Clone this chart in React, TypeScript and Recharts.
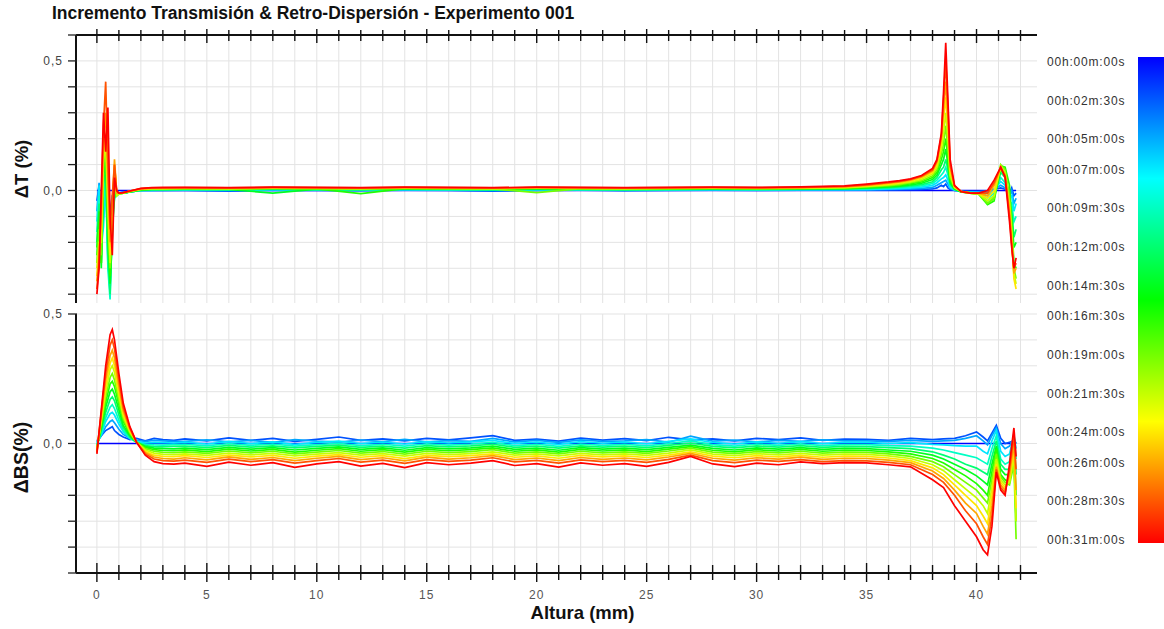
import { LineChart, Line, XAxis, YAxis, CartesianGrid } from "recharts";

// time of each profile (minutes) – also the legend labels
const TIMES = [0, 2.5, 5, 7, 9.5, 12, 14.5, 16.5, 19, 21.5, 24, 26, 28.5, 31];
const TIME_LABELS = [
  "00h:00m:00s", "00h:02m:30s", "00h:05m:00s", "00h:07m:00s", "00h:09m:30s", "00h:12m:00s", "00h:14m:30s",
  "00h:16m:30s", "00h:19m:00s", "00h:21m:30s", "00h:24m:00s", "00h:26m:00s", "00h:28m:30s", "00h:31m:00s",
];

const X_TICKS = Array.from({ length: 43 }, (_, i) => i);
const T_TICKS = [-0.4, -0.3, -0.2, -0.1, 0, 0.1, 0.2, 0.3, 0.4, 0.5, 0.6];
const BS_TICKS = [-0.5, -0.4, -0.3, -0.2, -0.1, 0, 0.1, 0.2, 0.3, 0.4, 0.5];

// ---- ΔT (%) ----
const TX_NEAR = [0, 0.1, 0.2, 0.3, 0.4, 0.5, 0.6, 0.7, 0.8, 0.9, 1.0, 1.2, 1.5, 2, 2.5, 3];
const TX_MID = [4, 6, 8, 10, 12, 14, 16, 18, 20, 22, 24, 26, 28, 30, 32, 34];
const TX_FAR = [35, 36, 36.5, 37, 37.5, 38, 38.2, 38.4, 38.5, 38.6, 38.7, 38.8, 39, 39.3, 39.7, 40.1, 40.5, 40.8, 41.1, 41.3, 41.5, 41.6, 41.7, 41.8];

const T_NEAR = [
  [0, 0, 0, 0, 0, 0, 0, 0, 0, 0, 0, 0, 0, 0, 0, 0],
  [-0.04, 0.02, -0.1, -0.06, 0.01, -0.12, -0.08, -0.02, -0.01, -0.01, -0.01, -0.005, -0.005, 0, 0, 0],
  [-0.08, 0.03, -0.16, -0.1, 0.02, -0.2, -0.3, -0.06, -0.02, -0.015, -0.01, -0.01, -0.005, 0, 0, 0],
  [-0.12, 0.02, -0.22, -0.14, 0.04, -0.28, -0.38, -0.1, -0.03, -0.01, -0.01, -0.01, -0.005, 0, 0, 0.002],
  [-0.16, -0.02, -0.25, -0.05, 0.06, -0.3, -0.42, -0.12, -0.02, -0.01, -0.01, -0.01, -0.005, 0, 0.002, 0.002],
  [-0.2, -0.05, -0.28, 0.02, 0.08, -0.25, -0.4, -0.15, -0.03, -0.01, -0.012, -0.01, -0.005, 0, 0.003, 0.003],
  [-0.22, -0.08, -0.3, 0.05, 0.12, -0.2, -0.36, -0.18, 0.02, -0.02, -0.012, -0.01, -0.005, 0.002, 0.004, 0.004],
  [-0.25, -0.12, -0.28, 0.08, 0.15, -0.15, -0.33, -0.15, 0.04, -0.02, -0.012, -0.01, -0.004, 0.003, 0.005, 0.005],
  [-0.28, -0.15, -0.25, 0.1, 0.2, -0.1, -0.3, -0.12, 0.06, -0.02, -0.012, -0.01, -0.004, 0.004, 0.006, 0.006],
  [-0.3, -0.2, -0.2, 0.12, 0.18, -0.05, -0.28, -0.1, 0.08, -0.02, -0.012, -0.01, -0.003, 0.005, 0.007, 0.007],
  [-0.33, -0.22, -0.15, 0.15, 0.22, 0.0, -0.25, -0.08, 0.1, -0.01, -0.012, -0.008, -0.003, 0.005, 0.008, 0.008],
  [-0.35, -0.25, -0.1, 0.2, 0.3, 0.05, -0.2, -0.05, 0.12, -0.01, -0.01, -0.008, -0.002, 0.006, 0.009, 0.009],
  [-0.38, -0.28, -0.05, 0.25, 0.42, 0.1, -0.15, -0.02, 0.1, 0.0, -0.01, -0.008, -0.002, 0.007, 0.01, 0.01],
  [-0.4, -0.3, 0.0, 0.3, 0.15, 0.32, -0.1, -0.25, 0.05, 0.0, -0.01, -0.008, -0.002, 0.008, 0.011, 0.012],
];

const T_MID = [
  [0, 0, 0, 0, 0, 0, 0, 0, 0, 0, 0, 0, 0, 0, 0, 0],
  [0.0, -0.002, 0.001, 0.0, -0.001, 0.001, 0.0, -0.002, 0.0, 0.001, -0.001, 0.0, 0.001, 0.0, 0.001, 0.001],
  [0.001, 0.0, 0.002, 0.001, 0.0, 0.002, 0.001, 0.0, 0.001, 0.002, 0.0, 0.001, 0.002, 0.001, 0.002, 0.002],
  [0.002, 0.001, 0.003, 0.002, 0.001, 0.003, 0.002, 0.001, 0.003, 0.002, 0.001, 0.002, 0.003, 0.002, 0.003, 0.003],
  [0.003, 0.002, 0.004, 0.003, 0.002, 0.004, 0.003, 0.002, 0.004, 0.003, 0.002, 0.003, 0.004, 0.003, 0.004, 0.005],
  [0.004, 0.003, 0.005, 0.004, 0.003, 0.005, 0.004, 0.003, 0.005, 0.004, 0.003, 0.004, 0.005, 0.004, 0.005, 0.006],
  [0.005, 0.004, -0.01, 0.005, 0.004, 0.006, 0.005, 0.004, 0.006, 0.005, 0.004, 0.005, 0.006, 0.005, 0.006, 0.007],
  [0.006, 0.005, 0.007, 0.006, -0.012, 0.007, 0.006, 0.005, 0.007, 0.006, 0.005, 0.006, 0.007, 0.006, 0.007, 0.008],
  [0.007, 0.006, 0.008, 0.007, 0.006, 0.008, 0.007, 0.006, -0.008, 0.007, 0.006, 0.007, 0.008, 0.007, 0.008, 0.01],
  [0.008, 0.007, 0.009, 0.008, 0.007, 0.009, 0.008, 0.007, 0.009, 0.008, 0.007, 0.008, 0.009, 0.008, 0.009, 0.011],
  [0.009, 0.008, 0.01, 0.009, 0.008, 0.01, 0.009, 0.008, 0.01, 0.009, 0.008, 0.009, 0.01, 0.009, 0.01, 0.013],
  [0.01, 0.009, 0.011, 0.01, 0.009, 0.011, 0.01, 0.009, 0.011, 0.01, 0.009, 0.01, 0.011, 0.01, 0.011, 0.014],
  [0.011, 0.01, 0.012, 0.011, 0.01, 0.012, 0.011, 0.01, 0.012, 0.011, 0.01, 0.011, 0.012, 0.011, 0.012, 0.016],
  [0.012, 0.011, 0.013, 0.012, 0.011, 0.013, 0.012, 0.011, 0.013, 0.012, 0.011, 0.012, 0.013, 0.012, 0.014, 0.018],
];

const T_FAR = [
  [0, 0, 0, 0, 0, 0, 0, 0, 0, 0, 0, 0, 0, 0, 0, 0, 0, 0, 0, 0, 0, 0, 0, 0],
  [0.001, 0.002, 0.002, 0.003, 0.004, 0.006, 0.01, 0.02, 0.015, 0.025, 0.01, 0.004, 0, -0.002, -0.003, -0.003, 0, 0.005, 0.01, 0.005, -0.01, 0.01, -0.02, -0.01],
  [0.002, 0.004, 0.005, 0.006, 0.008, 0.012, 0.02, 0.03, 0.035, 0.04, 0.025, 0.008, 0.001, -0.003, -0.005, -0.005, -0.008, 0.005, 0.02, 0.01, -0.02, 0.0, -0.05, -0.03],
  [0.004, 0.006, 0.008, 0.01, 0.013, 0.02, 0.03, 0.045, 0.05, 0.06, 0.04, 0.012, 0.002, -0.004, -0.006, -0.008, -0.02, 0.0, 0.035, 0.02, -0.03, -0.02, -0.08, -0.05],
  [0.006, 0.009, 0.011, 0.014, 0.018, 0.027, 0.04, 0.06, 0.07, 0.09, 0.06, 0.018, 0.004, -0.004, -0.007, -0.01, -0.03, -0.01, 0.05, 0.03, -0.04, -0.05, -0.12, -0.1],
  [0.008, 0.011, 0.014, 0.018, 0.023, 0.034, 0.05, 0.08, 0.09, 0.12, 0.08, 0.025, 0.005, -0.005, -0.008, -0.012, -0.04, -0.02, 0.07, 0.05, -0.05, -0.08, -0.18, -0.15],
  [0.01, 0.014, 0.017, 0.022, 0.028, 0.042, 0.06, 0.1, 0.12, 0.16, 0.1, 0.03, 0.006, -0.005, -0.009, -0.013, -0.05, -0.03, 0.08, 0.06, -0.04, -0.1, -0.22, -0.2],
  [0.012, 0.017, 0.02, 0.026, 0.033, 0.05, 0.07, 0.12, 0.15, 0.2, 0.13, 0.04, 0.008, -0.005, -0.01, -0.014, -0.055, -0.04, 0.095, 0.09, 0.02, -0.12, -0.28, -0.3],
  [0.014, 0.019, 0.023, 0.03, 0.038, 0.057, 0.08, 0.14, 0.18, 0.25, 0.16, 0.05, 0.01, -0.004, -0.01, -0.014, -0.05, -0.03, 0.1, 0.08, -0.02, -0.14, -0.3, -0.34],
  [0.016, 0.022, 0.026, 0.033, 0.043, 0.064, 0.09, 0.16, 0.22, 0.3, 0.2, 0.06, 0.012, -0.004, -0.01, -0.013, -0.04, -0.02, 0.095, 0.07, -0.05, -0.16, -0.32, -0.36],
  [0.018, 0.025, 0.03, 0.037, 0.048, 0.07, 0.1, 0.18, 0.27, 0.36, 0.24, 0.08, 0.014, -0.004, -0.01, -0.012, -0.03, 0.0, 0.09, 0.06, -0.07, -0.18, -0.34, -0.38],
  [0.02, 0.028, 0.033, 0.04, 0.052, 0.076, 0.11, 0.2, 0.31, 0.42, 0.28, 0.09, 0.016, -0.003, -0.009, -0.011, -0.02, 0.02, 0.09, 0.06, -0.08, -0.2, -0.32, -0.3],
  [0.022, 0.03, 0.035, 0.043, 0.055, 0.08, 0.115, 0.21, 0.35, 0.5, 0.32, 0.1, 0.018, -0.003, -0.009, -0.01, -0.01, 0.03, 0.09, 0.055, -0.1, -0.21, -0.3, -0.28],
  [0.025, 0.033, 0.038, 0.045, 0.058, 0.085, 0.12, 0.22, 0.38, 0.57, 0.35, 0.12, 0.02, -0.005, -0.01, -0.01, 0.0, 0.04, 0.09, 0.05, -0.12, -0.22, -0.3, -0.26],
];

// ---- ΔBS (%) ----
const BX_NEAR = [0, 0.2, 0.4, 0.6, 0.7, 0.8, 1.0, 1.2, 1.5, 1.8, 2.2, 2.6, 3, 3.5];
const BX_MID = [4, 5, 6, 7, 8, 9, 10, 11, 12, 13, 14, 15, 16, 17, 18, 19, 20, 21, 22, 23, 24, 25, 26, 27, 28, 29, 30, 31, 32, 33, 34];
const BX_FAR = [35, 36, 37, 38, 38.5, 39, 39.5, 40, 40.3, 40.5, 40.7, 40.9, 41.1, 41.3, 41.5, 41.7, 41.8];

const BS_NEAR = [
  [0, 0, 0, 0, 0, 0, 0, 0, 0, 0, 0, 0, 0, 0],
  [0.01, 0.03, 0.05, 0.06, 0.065, 0.05, 0.035, 0.025, 0.015, 0.02, 0.01, 0.02, 0.015, 0.012],
  [0.005, 0.03, 0.065, 0.085, 0.09, 0.08, 0.055, 0.035, 0.02, 0.012, 0.008, 0.012, 0.01, 0.008],
  [0.0, 0.035, 0.085, 0.115, 0.12, 0.11, 0.075, 0.045, 0.02, 0.008, 0.002, 0.004, 0.003, 0.002],
  [-0.005, 0.04, 0.1, 0.14, 0.15, 0.135, 0.09, 0.05, 0.02, 0.005, -0.003, -0.005, -0.006, -0.004],
  [-0.01, 0.05, 0.12, 0.17, 0.18, 0.165, 0.11, 0.06, 0.025, 0.005, -0.008, -0.012, -0.013, -0.011],
  [-0.015, 0.06, 0.14, 0.2, 0.21, 0.19, 0.13, 0.07, 0.03, 0.005, -0.012, -0.018, -0.02, -0.021],
  [-0.02, 0.07, 0.16, 0.23, 0.24, 0.22, 0.15, 0.085, 0.035, 0.005, -0.015, -0.024, -0.027, -0.028],
  [-0.02, 0.08, 0.18, 0.255, 0.27, 0.245, 0.165, 0.095, 0.04, 0.005, -0.02, -0.03, -0.034, -0.035],
  [-0.025, 0.09, 0.2, 0.285, 0.3, 0.275, 0.185, 0.105, 0.045, 0.005, -0.025, -0.037, -0.042, -0.043],
  [-0.03, 0.1, 0.22, 0.31, 0.33, 0.3, 0.2, 0.115, 0.05, 0.005, -0.03, -0.045, -0.05, -0.051],
  [-0.03, 0.11, 0.245, 0.34, 0.36, 0.33, 0.22, 0.125, 0.055, 0.005, -0.035, -0.052, -0.058, -0.06],
  [-0.035, 0.12, 0.27, 0.38, 0.4, 0.365, 0.245, 0.14, 0.06, 0.005, -0.04, -0.06, -0.066, -0.068],
  [-0.04, 0.13, 0.3, 0.42, 0.44, 0.4, 0.27, 0.155, 0.065, 0.005, -0.045, -0.07, -0.078, -0.08],
];

const BS_MID = [
  [0, 0, 0, 0, 0, 0, 0, 0, 0, 0, 0, 0, 0, 0, 0, 0, 0, 0, 0, 0, 0, 0, 0, 0, 0, 0, 0, 0, 0, 0, 0],
  [0.018, 0.01, 0.022, 0.012, 0.02, 0.008, 0.016, 0.025, 0.012, 0.018, 0.01, 0.02, 0.014, 0.022, 0.03, 0.012, 0.017, 0.009, 0.021, 0.013, 0.019, 0.011, 0.024, 0.014, 0.018, 0.01, 0.02, 0.015, 0.022, 0.012, 0.017],
  [0.008, 0.014, 0.006, 0.012, 0.004, 0.015, 0.009, 0.005, 0.013, 0.007, 0.016, 0.006, 0.011, 0.008, 0.02, 0.006, 0.012, 0.004, 0.014, 0.008, 0.01, 0.015, 0.005, 0.028, 0.009, 0.013, 0.006, 0.012, 0.008, 0.014, 0.01],
  [0.005, -0.002, 0.008, 0.0, 0.006, -0.003, 0.004, 0.009, 0.0, 0.005, -0.002, 0.007, 0.002, 0.006, 0.012, 0.0, 0.005, -0.003, 0.007, 0.001, 0.005, -0.001, 0.008, 0.018, 0.004, -0.002, 0.006, 0.001, 0.007, 0.0, 0.004],
  [-0.003, -0.009, 0.0, -0.007, -0.002, -0.01, -0.004, 0.001, -0.008, -0.003, -0.01, -0.001, -0.006, -0.002, 0.004, -0.008, -0.003, -0.011, -0.002, -0.007, -0.003, -0.009, 0.0, 0.01, -0.004, -0.01, -0.002, -0.007, -0.001, -0.008, -0.004],
  [-0.01, -0.016, -0.007, -0.014, -0.009, -0.017, -0.011, -0.006, -0.015, -0.01, -0.018, -0.008, -0.013, -0.009, -0.003, -0.015, -0.01, -0.018, -0.009, -0.014, -0.01, -0.016, -0.007, 0.002, -0.011, -0.017, -0.009, -0.014, -0.008, -0.015, -0.011],
  [-0.018, -0.024, -0.015, -0.022, -0.016, -0.025, -0.019, -0.013, -0.023, -0.017, -0.026, -0.016, -0.021, -0.017, -0.01, -0.023, -0.018, -0.026, -0.016, -0.022, -0.018, -0.024, -0.015, -0.006, -0.019, -0.025, -0.017, -0.022, -0.016, -0.023, -0.019],
  [-0.025, -0.031, -0.022, -0.029, -0.023, -0.033, -0.026, -0.02, -0.03, -0.024, -0.033, -0.023, -0.028, -0.024, -0.017, -0.03, -0.025, -0.033, -0.023, -0.029, -0.025, -0.031, -0.022, -0.012, -0.026, -0.032, -0.024, -0.029, -0.023, -0.03, -0.026],
  [-0.032, -0.038, -0.029, -0.036, -0.03, -0.04, -0.033, -0.027, -0.037, -0.031, -0.041, -0.03, -0.035, -0.031, -0.024, -0.037, -0.032, -0.04, -0.03, -0.036, -0.032, -0.038, -0.029, -0.018, -0.033, -0.039, -0.031, -0.036, -0.03, -0.037, -0.033],
  [-0.04, -0.046, -0.037, -0.044, -0.038, -0.048, -0.041, -0.035, -0.045, -0.039, -0.049, -0.038, -0.043, -0.039, -0.032, -0.045, -0.04, -0.048, -0.038, -0.044, -0.04, -0.046, -0.037, -0.025, -0.041, -0.047, -0.039, -0.044, -0.038, -0.045, -0.041],
  [-0.047, -0.054, -0.045, -0.052, -0.046, -0.057, -0.049, -0.043, -0.053, -0.047, -0.058, -0.046, -0.051, -0.047, -0.04, -0.053, -0.048, -0.057, -0.046, -0.052, -0.048, -0.054, -0.045, -0.032, -0.049, -0.055, -0.047, -0.052, -0.046, -0.053, -0.049],
  [-0.055, -0.063, -0.052, -0.061, -0.054, -0.066, -0.057, -0.05, -0.062, -0.055, -0.067, -0.053, -0.06, -0.055, -0.047, -0.062, -0.056, -0.066, -0.054, -0.061, -0.056, -0.063, -0.052, -0.038, -0.057, -0.064, -0.055, -0.06, -0.053, -0.061, -0.057],
  [-0.064, -0.073, -0.06, -0.07, -0.062, -0.076, -0.066, -0.058, -0.072, -0.064, -0.077, -0.062, -0.069, -0.064, -0.055, -0.071, -0.065, -0.076, -0.063, -0.07, -0.065, -0.073, -0.061, -0.045, -0.066, -0.074, -0.064, -0.069, -0.062, -0.07, -0.066],
  [-0.076, -0.088, -0.072, -0.084, -0.074, -0.092, -0.079, -0.07, -0.087, -0.077, -0.093, -0.074, -0.082, -0.076, -0.066, -0.085, -0.078, -0.091, -0.075, -0.084, -0.078, -0.088, -0.073, -0.05, -0.079, -0.089, -0.076, -0.082, -0.071, -0.078, -0.074],
];

const BS_FAR = [
  [0, 0, 0, 0, 0, 0, 0, 0, 0, 0, 0, 0, 0, 0, 0, 0, 0],
  [0.016, 0.012, 0.02, 0.015, 0.018, 0.02, 0.03, 0.045, 0.025, 0.01, 0.04, 0.07, 0.02, 0.0, 0.005, 0.01, 0.0],
  [0.01, 0.008, 0.012, 0.008, 0.01, 0.012, 0.02, 0.03, 0.01, -0.005, 0.03, 0.06, 0.0, -0.02, -0.01, 0.02, 0.0],
  [0.004, 0.0, 0.003, -0.003, -0.005, -0.008, -0.01, -0.01, -0.03, -0.04, 0.01, 0.05, -0.03, -0.05, -0.04, 0.03, -0.02],
  [-0.004, -0.008, -0.01, -0.018, -0.025, -0.035, -0.045, -0.055, -0.07, -0.08, -0.02, 0.03, -0.06, -0.08, -0.07, 0.04, -0.06],
  [-0.012, -0.016, -0.02, -0.032, -0.045, -0.06, -0.08, -0.095, -0.11, -0.12, -0.05, 0.01, -0.08, -0.1, -0.1, 0.03, -0.12],
  [-0.02, -0.025, -0.03, -0.045, -0.06, -0.08, -0.1, -0.125, -0.145, -0.16, -0.08, -0.01, -0.1, -0.12, -0.12, 0.0, -0.2],
  [-0.027, -0.032, -0.04, -0.058, -0.075, -0.1, -0.125, -0.155, -0.18, -0.2, -0.11, -0.02, -0.12, -0.14, -0.15, -0.05, -0.3],
  [-0.034, -0.04, -0.05, -0.07, -0.09, -0.12, -0.15, -0.18, -0.21, -0.23, -0.14, -0.04, -0.13, -0.15, -0.16, -0.08, -0.37],
  [-0.042, -0.048, -0.058, -0.082, -0.105, -0.14, -0.175, -0.21, -0.24, -0.27, -0.17, -0.06, -0.14, -0.16, -0.15, -0.05, -0.3],
  [-0.05, -0.056, -0.066, -0.094, -0.12, -0.16, -0.2, -0.24, -0.28, -0.31, -0.2, -0.08, -0.15, -0.17, -0.14, -0.02, -0.25],
  [-0.058, -0.064, -0.074, -0.106, -0.135, -0.18, -0.23, -0.27, -0.32, -0.35, -0.24, -0.09, -0.16, -0.18, -0.12, 0.0, -0.18],
  [-0.067, -0.073, -0.082, -0.12, -0.15, -0.2, -0.26, -0.31, -0.36, -0.39, -0.28, -0.1, -0.17, -0.19, -0.1, 0.03, -0.1],
  [-0.075, -0.082, -0.09, -0.14, -0.17, -0.24, -0.3, -0.36, -0.41, -0.43, -0.32, -0.11, -0.18, -0.2, -0.08, 0.06, -0.05],
];

const FONT = "'Liberation Sans', Arial, sans-serif";
const colorFor = (t: number) => `hsl(${240 * (1 - t / 31)}, 100%, 50%)`;

function buildTable(xs: number[], parts: number[][][]) {
  const rows = TIMES.map((_, k) => parts.flatMap((p) => p[k]));
  return xs.map((x, i) => {
    const row: Record<string, number> = { x };
    rows.forEach((r, k) => { row["c" + k] = r[i]; });
    return row;
  });
}

const T_DATA = buildTable([...TX_NEAR, ...TX_MID, ...TX_FAR], [T_NEAR, T_MID, T_FAR]);
const BS_DATA = buildTable([...BX_NEAR, ...BX_MID, ...BX_FAR], [BS_NEAR, BS_MID, BS_FAR]);

const fmtY = (v: number) => (Math.abs(v - 0.5) < 1e-9 ? "0,5" : Math.abs(v) < 1e-9 ? "0,0" : "");

function BottomXTick(props: any) {
  const { x, y, payload } = props;
  const major = payload.value % 5 === 0;
  return (
    <g>
      <line x1={x} x2={x} y1={y - (major ? 10 : 8)} y2={y + (major ? 9 : 7)} stroke="#111" strokeWidth={1.4} />
      {major && (
        <text x={x} y={y + 26} textAnchor="middle" fontSize={12} letterSpacing={1} fill="#555" fontFamily={FONT}>
          {payload.value}
        </text>
      )}
    </g>
  );
}

function TopXTick(props: any) {
  const { x, y, payload } = props;
  const major = payload.value % 5 === 0;
  return <line x1={x} x2={x} y1={y - (major ? 6 : 5)} y2={y + (major ? 8 : 6)} stroke="#111" strokeWidth={1.4} />;
}

function LeftYTick(props: any) {
  const { x, y, payload } = props;
  const label = fmtY(payload.value);
  return (
    <g>
      <line x1={x - 8} x2={x + 1} y1={y} y2={y} stroke="#222" strokeWidth={1.3} />
      {label && (
        <text x={x - 13} y={y + 4} textAnchor="end" fontSize={12} letterSpacing={1} fill="#444" fontFamily={FONT}>
          {label}
        </text>
      )}
    </g>
  );
}

function yLabel(text: string, size: number, shift: number) {
  return (p: any) => {
    const vb = p.viewBox;
    const cx = vb.x + 21;
    const cy = vb.y + vb.height / 2 + shift;
    return (
      <text x={cx} y={cy} transform={`rotate(-90, ${cx}, ${cy})`} textAnchor="middle" dominantBaseline="central"
        fontSize={size} fontWeight="bold" fill="#111" fontFamily={FONT}>
        {text}
      </text>
    );
  };
}

function xLabel(p: any) {
  const vb = p.viewBox;
  const cx = vb.x + vb.width / 2 + 26;
  return (
    <text x={cx} y={vb.y + 46} textAnchor="middle" fontSize={18.5} fontWeight="bold" fill="#111" fontFamily={FONT}>
      Altura (mm)
    </text>
  );
}

function Curves({ xId, yId }: { xId: string; yId: string }) {
  return (
    <>
      {TIMES.map((t, k) => (
        <Line key={k} xAxisId={xId} yAxisId={yId} type="linear" dataKey={"c" + k} stroke={colorFor(t)}
          strokeWidth={1.7} dot={false} activeDot={false} isAnimationActive={false} />
      ))}
    </>
  );
}

const X_DOMAIN: [number, number] = [-0.95, 42.75];

export default function App() {
  return (
    <div style={{ position: "absolute", left: 0, top: 0, width: 1164, height: 629, background: "#fff", fontFamily: FONT }}>
      <div style={{ position: "absolute", left: 52, top: 3, fontSize: 17.5, fontWeight: "bold", color: "#111", whiteSpace: "nowrap" }}>
        Incremento Transmisión &amp; Retro-Dispersión - Experimento 001
      </div>

      {/* ΔT panel */}
      <div style={{ position: "absolute", left: 0, top: 0 }}>
        <LineChart width={1164} height={303} data={T_DATA} margin={{ top: 0, right: 127, bottom: 0, left: 0 }}>
          <CartesianGrid xAxisId="top" yAxisId="l" stroke="#e3e3e3" horizontalValues={T_TICKS} verticalValues={X_TICKS} />
          <XAxis xAxisId="top" orientation="top" type="number" dataKey="x" domain={X_DOMAIN} ticks={X_TICKS} interval={0}
            height={35} tickSize={0} tickMargin={0} tickLine={false} tick={<TopXTick />} axisLine={{ stroke: "#111", strokeWidth: 2 }} allowDataOverflow />
          <XAxis xAxisId="bot" orientation="bottom" type="number" dataKey="x" domain={X_DOMAIN} height={0}
            tick={false} tickLine={false} axisLine={{ stroke: "#444", strokeWidth: 2 }} allowDataOverflow />
          <YAxis yAxisId="l" type="number" domain={[-0.434, 0.6]} ticks={T_TICKS} interval={0} width={76}
            tickSize={0} tickMargin={0} tickLine={false} tick={<LeftYTick />} axisLine={{ stroke: "#111", strokeWidth: 2 }}
            allowDataOverflow label={{ content: yLabel("ΔT (%)", 18.5, 0) }} />
          <YAxis yAxisId="r" orientation="right" type="number" domain={[-0.434, 0.6]} width={0}
            tick={false} tickLine={false} axisLine={{ stroke: "#777", strokeWidth: 1.5 }} />
          <Curves xId="top" yId="l" />
        </LineChart>
      </div>

      {/* ΔBS panel */}
      <div style={{ position: "absolute", left: 0, top: 300 }}>
        <LineChart width={1164} height={329} data={BS_DATA} margin={{ top: 14, right: 127, bottom: 0, left: 0 }}>
          <CartesianGrid xAxisId="bot" yAxisId="l" stroke="#e3e3e3" horizontalValues={BS_TICKS} verticalValues={X_TICKS} />
          <XAxis xAxisId="top" orientation="top" type="number" dataKey="x" domain={X_DOMAIN} height={0}
            tick={false} tickLine={false} axisLine={{ stroke: "#999", strokeWidth: 2 }} allowDataOverflow />
          <XAxis xAxisId="bot" orientation="bottom" type="number" dataKey="x" domain={X_DOMAIN} ticks={X_TICKS} interval={0}
            height={56} tickSize={0} tickMargin={0} tickLine={false} tick={<BottomXTick />} axisLine={{ stroke: "#111", strokeWidth: 2 }}
            allowDataOverflow label={{ content: xLabel }} />
          <YAxis yAxisId="l" type="number" domain={[-0.5, 0.5]} ticks={BS_TICKS} interval={0} width={76}
            tickSize={0} tickMargin={0} tickLine={false} tick={<LeftYTick />} axisLine={{ stroke: "#111", strokeWidth: 2 }}
            allowDataOverflow label={{ content: yLabel("ΔBS(%)", 19.5, 14) }} />
          <YAxis yAxisId="r" orientation="right" type="number" domain={[-0.5, 0.5]} width={0}
            tick={false} tickLine={false} axisLine={{ stroke: "#777", strokeWidth: 1.5 }} />
          <Curves xId="bot" yId="l" />
        </LineChart>
      </div>

      {/* time legend */}
      <div style={{ position: "absolute", left: 1138, top: 57, width: 26, height: 486,
        background: "linear-gradient(to bottom, hsl(240,100%,50%), hsl(180,100%,50%), hsl(120,100%,50%), hsl(60,100%,50%), hsl(0,100%,50%))" }} />
      {TIMES.map((t, i) => (
        <div key={i} style={{ position: "absolute", left: 1047, top: 62 + (t / 31) * 478 - 8, fontSize: 12, letterSpacing: 0.8,
          color: "#333", whiteSpace: "nowrap", lineHeight: "16px" }}>
          {TIME_LABELS[i]}
        </div>
      ))}
    </div>
  );
}
